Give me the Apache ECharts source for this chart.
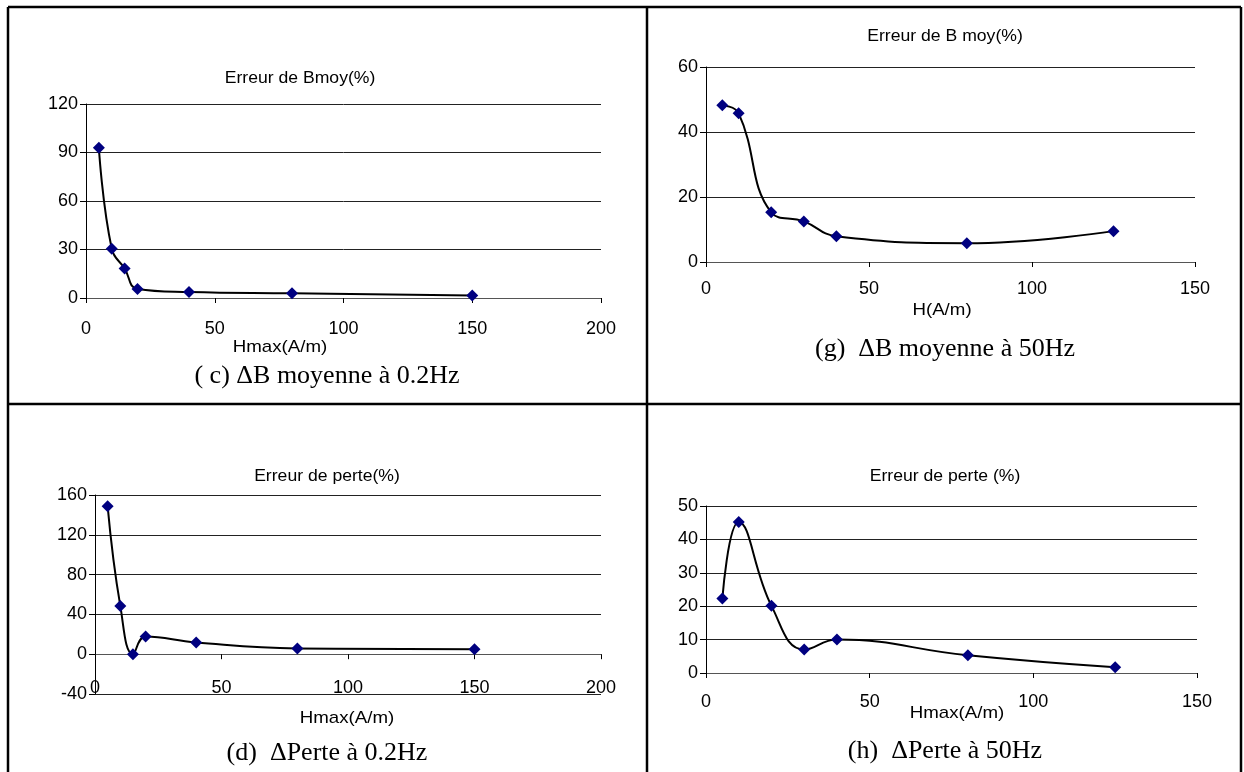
<!DOCTYPE html>
<html>
<head>
<meta charset="utf-8">
<style>
  html, body { margin: 0; padding: 0; background: #fff; }
  #main { width: 1244px; height: 772px; }
</style>
<script src="https://cdn.jsdelivr.net/npm/echarts@6/dist/echarts.min.js"></script>
</head>
<body>
<div id="main"></div>
<script>
// (c) mean-B error at 0.2 Hz
const hmaxC = [5, 10, 15, 20, 40, 80, 150];
const errBC = [93, 30.5, 18.3, 5.6, 3.7, 2.9, 1.6];
// (g) mean-B error at 50 Hz
const hG = [5, 10, 20, 30, 40, 80, 125];
const errBG = [48.2, 45.8, 15.3, 12.5, 7.9, 5.8, 9.5];
// (d) loss error at 0.2 Hz
const hmaxD = [5, 10, 15, 20, 40, 80, 150];
const errPD = [148.6, 48.5, 0, 17.7, 11.7, 5.7, 5.0];
// (h) loss error at 50 Hz
const hmaxH = [5, 10, 20, 30, 40, 80, 125];
const errPH = [22.3, 45.2, 20.1, 7.0, 10.0, 5.3, 1.7];

// axis ranges [min, max, interval]
const xRangeC = [0, 200, 50], yRangeC = [0, 120, 30];
const xRangeG = [0, 150, 50], yRangeG = [0, 60, 20];
const xRangeD = [0, 200, 50], yRangeD = [-40, 160, 40];
const xRangeH = [0, 150, 50], yRangeH = [0, 50, 10];

// texts
const titles = ['Erreur de Bmoy(%)', 'Erreur de B moy(%)', 'Erreur de perte(%)', 'Erreur de perte (%)'];
const xNames = ['Hmax(A/m)', 'H(A/m)', 'Hmax(A/m)', 'Hmax(A/m)'];
const captions = ['( c) \u0394B moyenne \u00e0 0.2Hz', '(g)  \u0394B moyenne \u00e0 50Hz',
                  '(d)  \u0394Perte \u00e0 0.2Hz', '(h)  \u0394Perte \u00e0 50Hz'];

const pairs = (xs, ys) => xs.map((x, i) => [x, ys[i]]);

const SANS = '"Liberation Sans", Arial, sans-serif';
const SERIF = '"Liberation Serif", "Times New Roman", serif';
const TICK_FONT = 18;

const grids = [
  { left: 86, top: 104, width: 515, height: 194 },
  { left: 706, top: 67, width: 489, height: 195 },
  { left: 95, top: 495, width: 506, height: 199 },
  { left: 706, top: 506, width: 491, height: 167 }
];
// distance from x axis line to its tick labels, per chart
const xLabelMargin = [22, 18, 0, 20];

function xAxisFor(gi, r, opts) {
  return Object.assign({
    type: 'value', gridIndex: gi, min: r[0], max: r[1], interval: r[2],
    splitLine: { show: false },
    axisLine: { show: true, onZero: true, lineStyle: { color: '#555', width: 1 } },
    axisTick: { show: true, inside: false, length: 5, lineStyle: { color: '#000' } },
    axisLabel: { color: '#000', fontFamily: SANS, fontSize: TICK_FONT, margin: xLabelMargin[gi] }
  }, opts || {});
}
function yAxisFor(gi, r) {
  return {
    type: 'value', gridIndex: gi, min: r[0], max: r[1], interval: r[2],
    splitLine: { show: true, lineStyle: { color: '#222', width: 1 } },
    axisLine: { show: true, onZero: false, lineStyle: { color: '#000', width: 1 } },
    axisTick: { show: true, inside: false, length: 6, lineStyle: { color: '#000' } },
    axisLabel: { color: '#000', fontFamily: SANS, fontSize: TICK_FONT, margin: 8 }
  };
}

const xAxes = [
  xAxisFor(0, xRangeC),
  xAxisFor(1, xRangeG),
  // (d): axis line on zero, labels kept along the bottom edge
  xAxisFor(2, xRangeD, { axisLabel: { show: false } }),
  xAxisFor(3, xRangeH),
  xAxisFor(2, xRangeD, {
    position: 'bottom',
    axisLine: { show: false, onZero: false },
    axisTick: { show: false },
    axisLabel: { color: '#000', fontFamily: SANS, fontSize: TICK_FONT, margin: -15 }
  })
];
const yAxes = [yAxisFor(0, yRangeC), yAxisFor(1, yRangeG), yAxisFor(2, yRangeD), yAxisFor(3, yRangeH)];

function lineSeries(i, data) {
  return {
    type: 'line', xAxisIndex: i, yAxisIndex: i, data: data,
    smooth: 0.45,
    symbol: 'diamond', symbolSize: 12,
    itemStyle: { color: '#000080' },
    lineStyle: { color: '#000', width: 2 },
    clip: false, z: 3
  };
}

// text anchors: [title, axis name, caption] centres
const textPos = [
  [[300, 79], [280, 347], [327, 376]],
  [[945, 37], [942, 310], [945, 349]],
  [[327, 477], [347, 718], [327, 753]],
  [[945, 477], [957, 713], [945, 751]]
];

const graphics = [];
// table frame
const frame = [
  [8, 7, 1241, 7], [8, 7, 8, 772], [1241, 7, 1241, 772],
  [647, 7, 647, 772], [8, 404, 1241, 404]
];
frame.forEach(s => graphics.push({
  type: 'line', shape: { x1: s[0], y1: s[1], x2: s[2], y2: s[3] },
  style: { stroke: '#000', lineWidth: 2.5 }, silent: true
}));
textPos.forEach((p, i) => {
  graphics.push({ type: 'text', x: p[0][0], y: p[0][1], scaleX: 1.1,
    style: { text: titles[i], align: 'center', verticalAlign: 'middle', font: '16px ' + SANS, fill: '#000' } });
  graphics.push({ type: 'text', x: p[1][0], y: p[1][1], scaleX: 1.1,
    style: { text: xNames[i], align: 'center', verticalAlign: 'middle', font: '17px ' + SANS, fill: '#000' } });
  graphics.push({ type: 'text', x: p[2][0], y: p[2][1],
    style: { text: captions[i], align: 'center', verticalAlign: 'middle', font: '26px ' + SERIF, fill: '#000' } });
});

const chart = echarts.init(document.getElementById('main'), null, { renderer: 'canvas' });
chart.setOption({
  animation: false,
  backgroundColor: '#fff',
  grid: grids,
  xAxis: xAxes,
  yAxis: yAxes,
  series: [
    lineSeries(0, pairs(hmaxC, errBC)),
    lineSeries(1, pairs(hG, errBG)),
    lineSeries(2, pairs(hmaxD, errPD)),
    lineSeries(3, pairs(hmaxH, errPH))
  ],
  graphic: graphics
});
</script>
</body>
</html>
